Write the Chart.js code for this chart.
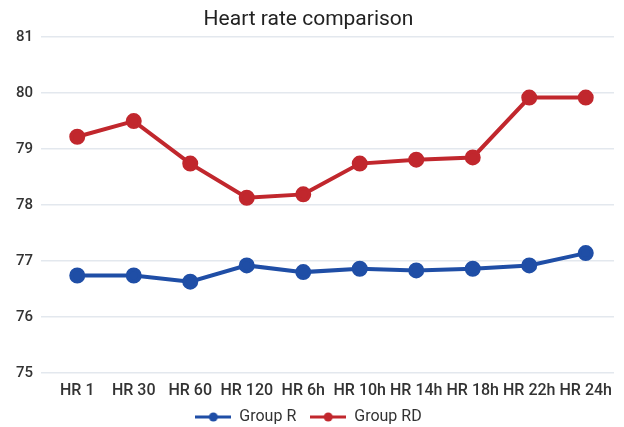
<!DOCTYPE html>
<html>
<head>
<meta charset="utf-8">
<script src="https://cdn.jsdelivr.net/npm/chart.js@4.4.0/dist/chart.umd.min.js"></script>
<style>
  html, body { margin: 0; padding: 0; background: #fff; overflow: hidden; }
  #wrap { width: 624px; height: 427px; position: relative; }
</style>
</head>
<body>
<div id="wrap"><canvas id="hr-chart"></canvas></div>
<script>
// Chart data
const labels = ['HR 1', 'HR 30', 'HR 60', 'HR 120', 'HR 6h', 'HR 10h', 'HR 14h', 'HR 18h', 'HR 22h', 'HR 24h'];
const groupR = [76.74, 76.74, 76.63, 76.92, 76.8, 76.86, 76.83, 76.86, 76.92, 77.14];
const groupRD = [79.22, 79.5, 78.74, 78.13, 78.19, 78.74, 78.81, 78.85, 79.92, 79.92];

const blue = '#1f4ea6';
const red = '#c1272d';

// legend marker: line with a dot in the middle
function legendIcon(color) {
  const c = document.createElement('canvas');
  c.width = 36; c.height = 12;
  const g = c.getContext('2d');
  g.strokeStyle = color;
  g.lineWidth = 3;
  g.beginPath();
  g.moveTo(0, 6); g.lineTo(36, 6);
  g.stroke();
  g.fillStyle = color;
  g.beginPath();
  g.arc(18, 6, 4.5, 0, Math.PI * 2);
  g.fill();
  return c;
}
const legendIcons = [legendIcon(blue), legendIcon(red)];

const ctx = document.getElementById('hr-chart').getContext('2d');
const chart = new Chart(ctx, {
  type: 'line',
  data: {
    labels: labels,
    datasets: [
      {
        label: 'Group R',
        data: groupR,
        borderColor: blue,
        backgroundColor: blue,
        borderWidth: 4,
        pointRadius: 6,
        pointStyle: 'circle',
        tension: 0
      },
      {
        label: 'Group RD',
        data: groupRD,
        borderColor: red,
        backgroundColor: red,
        borderWidth: 4,
        pointRadius: 6,
        pointStyle: 'circle',
        tension: 0
      }
    ]
  },
  options: {
    responsive: true,
    maintainAspectRatio: false,
    animation: false,
    layout: { padding: { left: 0, right: 7, top: 0, bottom: -8 } },
    plugins: {
      title: {
        display: true,
        text: 'Heart rate comparison',
        color: '#222',
        font: { family: 'Roboto', size: 21, weight: 'normal' },
        padding: { top: 7, bottom: 5 }
      },
      legend: {
        position: 'bottom',
        labels: {
          usePointStyle: true,
          pointStyleWidth: 36,
          color: '#333',
          font: { family: 'Roboto', size: 16 },
          padding: 14,
          boxHeight: 12,
          generateLabels: (chart) => chart.data.datasets.map((ds, i) => ({
            text: ds.label,
            fontColor: '#333',
            pointStyle: legendIcons[i],
            datasetIndex: i,
            hidden: false,
            lineWidth: 0
          }))
        }
      },
      tooltip: { enabled: false }
    },
    scales: {
      x: {
        offset: true,
        grid: { display: false, offset: true },
        border: { display: false },
        afterFit: (scale) => {
          scale.paddingLeft = 0;
          scale.paddingRight = 0;
          scale.height -= 7;
        },
        ticks: {
          color: '#333',
          padding: 1,
          font: { family: 'Roboto', size: 16, weight: '500' },
          maxRotation: 0,
          autoSkip: false
        }
      },
      y: {
        min: 75,
        max: 81,
        grid: { color: '#e3e8ee', lineWidth: 1.5 },
        border: { display: false },
        afterFit: (scale) => { scale.width = 49; },
        ticks: {
          stepSize: 1,
          color: '#333',
          padding: 8,
          font: { family: 'Roboto', size: 15, weight: '500' }
        }
      }
    }
  }
});
</script>
</body>
</html>
